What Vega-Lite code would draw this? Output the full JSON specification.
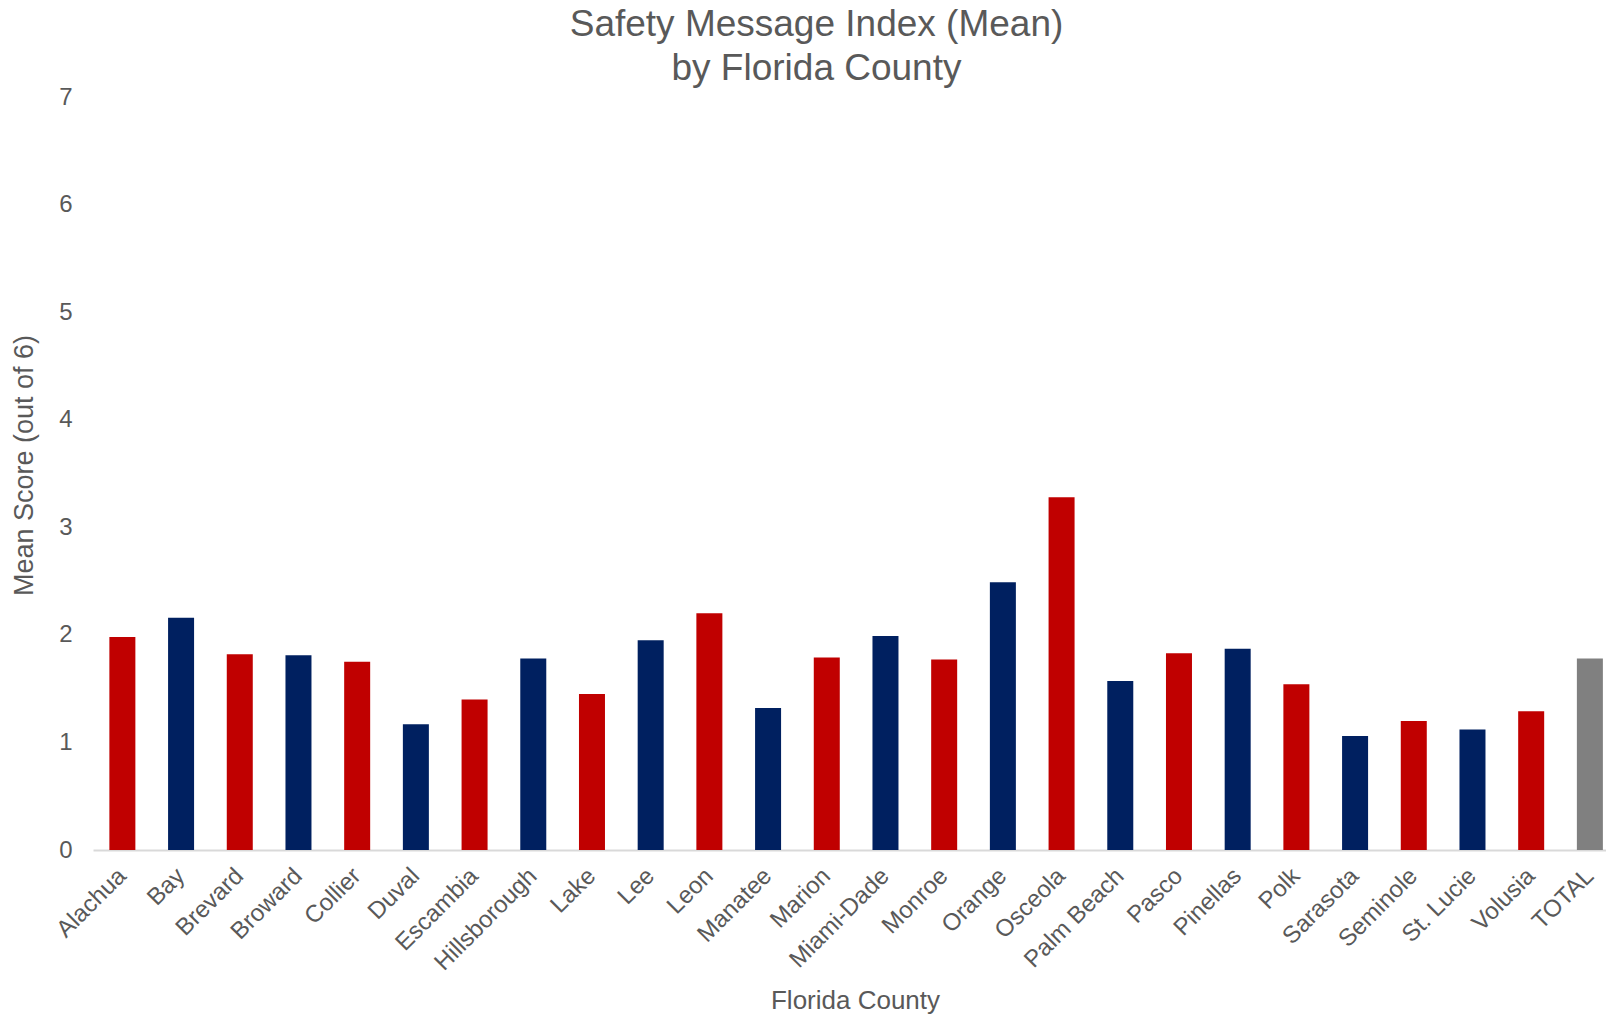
{
  "$schema": "https://vega.github.io/schema/vega-lite/v6.json",
  "width": 1513,
  "height": 753,
  "autosize": {"type": "none"},
  "padding": {"left": 93, "top": 97, "right": 0, "bottom": 169},
  "background": "white",
  "title": {
    "text": ["Safety Message Index (Mean)", "by Florida County"],
    "font": "Liberation Sans",
    "fontSize": 37,
    "fontWeight": "normal",
    "color": "#595959",
    "anchor": "middle",
    "frame": "group",
    "dx": -33,
    "offset": -3,
    "lineHeight": 44
  },
  "data": {
    "values": [
      {"county": "Alachua", "mean": 1.98},
      {"county": "Bay", "mean": 2.16},
      {"county": "Brevard", "mean": 1.82},
      {"county": "Broward", "mean": 1.81},
      {"county": "Collier", "mean": 1.75},
      {"county": "Duval", "mean": 1.17},
      {"county": "Escambia", "mean": 1.40},
      {"county": "Hillsborough", "mean": 1.78},
      {"county": "Lake", "mean": 1.45},
      {"county": "Lee", "mean": 1.95},
      {"county": "Leon", "mean": 2.20},
      {"county": "Manatee", "mean": 1.32},
      {"county": "Marion", "mean": 1.79},
      {"county": "Miami-Dade", "mean": 1.99},
      {"county": "Monroe", "mean": 1.77},
      {"county": "Orange", "mean": 2.49},
      {"county": "Osceola", "mean": 3.28},
      {"county": "Palm Beach", "mean": 1.57},
      {"county": "Pasco", "mean": 1.83},
      {"county": "Pinellas", "mean": 1.87},
      {"county": "Polk", "mean": 1.54},
      {"county": "Sarasota", "mean": 1.06},
      {"county": "Seminole", "mean": 1.20},
      {"county": "St. Lucie", "mean": 1.12},
      {"county": "Volusia", "mean": 1.29},
      {"county": "TOTAL", "mean": 1.78}
    ]
  },
  "mark": {"type": "bar"},
  "encoding": {
    "x": {
      "field": "county",
      "type": "nominal",
      "sort": null,
      "scale": {"paddingInner": 0.557, "paddingOuter": 0.166, "align": 0.84},
      "axis": {
        "title": "Florida County",
        "titleFont": "Liberation Sans",
        "titleFontSize": 26,
        "titleFontWeight": "normal",
        "titleColor": "#595959",
        "titleX": 762,
        "titlePadding": 13,
        "labelFont": "Liberation Sans",
        "labelFontSize": 24,
        "labelColor": "#595959",
        "labelAngle": -45,
        "labelAlign": "right",
        "labelBaseline": "middle",
        "labelPadding": 22,
        "ticks": false,
        "domainColor": "#d9d9d9",
        "domainWidth": 2,
        "grid": false
      }
    },
    "y": {
      "field": "mean",
      "type": "quantitative",
      "scale": {"domain": [0, 7], "nice": false},
      "axis": {
        "title": "Mean Score (out of 6)",
        "titleFont": "Liberation Sans",
        "titleFontSize": 27,
        "titleFontWeight": "normal",
        "titleColor": "#595959",
        "titlePadding": 20,
        "titleY": 368,
        "values": [0, 1, 2, 3, 4, 5, 6, 7],
        "labelFont": "Liberation Sans",
        "labelFontSize": 24,
        "labelColor": "#595959",
        "labelPadding": 21,
        "ticks": false,
        "domain": false,
        "grid": false
      }
    },
    "color": {
      "field": "county",
      "type": "nominal",
      "legend": null,
      "scale": {
        "domain": ["Alachua", "Bay", "Brevard", "Broward", "Collier", "Duval", "Escambia", "Hillsborough", "Lake", "Lee", "Leon", "Manatee", "Marion", "Miami-Dade", "Monroe", "Orange", "Osceola", "Palm Beach", "Pasco", "Pinellas", "Polk", "Sarasota", "Seminole", "St. Lucie", "Volusia", "TOTAL"],
        "range": ["#C00000", "#002060", "#C00000", "#002060", "#C00000", "#002060", "#C00000", "#002060", "#C00000", "#002060", "#C00000", "#002060", "#C00000", "#002060", "#C00000", "#002060", "#C00000", "#002060", "#C00000", "#002060", "#C00000", "#002060", "#C00000", "#002060", "#C00000", "#808080"]
      }
    }
  },
  "config": {
    "view": {"stroke": null}
  }
}
